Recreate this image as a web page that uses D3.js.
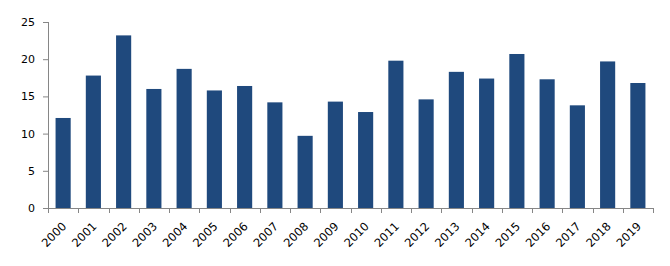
<!DOCTYPE html>
<html>
<head>
<meta charset="utf-8">
<script src="https://cdn.jsdelivr.net/npm/d3@7"></script>
<style>
  body { margin: 0; background: #fff; }
  text { font-family: "DejaVu Sans", Verdana, sans-serif; }
</style>
</head>
<body>
<div id="chart"></div>
<script>
// yearly values
const years = ["2000","2001","2002","2003","2004","2005","2006","2007","2008","2009",
               "2010","2011","2012","2013","2014","2015","2016","2017","2018","2019"];
const values = [12.1, 17.8, 23.2, 16.0, 18.7, 15.8, 16.4, 14.2, 9.7, 14.3,
                12.9, 19.8, 14.6, 18.3, 17.4, 20.7, 17.3, 13.8, 19.7, 16.8];
const yTicks = [0, 5, 10, 15, 20, 25];

const margin = {top: 22, right: 17, bottom: 58, left: 48},
    width = 670 - margin.left - margin.right,
    height = 266 - margin.top - margin.bottom;

const svg = d3.select("#chart")
    .append("svg")
    .attr("width", 670)
    .attr("height", 266)
    .append("g")
    .attr("transform", `translate(${margin.left},${margin.top})`);

const xScale = d3.scaleBand()
    .domain(years)
    .range([0, width])
    .paddingInner(0.5)
    .paddingOuter(0.25);

const yScale = d3.scaleLinear()
    .domain([0, 25])
    .range([height, 0]);

const axisColor = "#868686";

// bars
svg.selectAll("rect.bar")
    .data(values)
    .enter()
    .append("rect")
    .attr("class", "bar")
    .attr("x", (d, i) => xScale(years[i]))
    .attr("y", d => yScale(d))
    .attr("width", xScale.bandwidth())
    .attr("height", d => height - yScale(d))
    .style("fill", "#1f497d");

// y axis
const yAxis = svg.append("g")
    .call(d3.axisLeft(yScale).tickValues(yTicks).tickSize(5).tickPadding(8));
yAxis.select(".domain").attr("stroke", axisColor).attr("d", `M0.5,0V${height}`);
yAxis.selectAll(".tick line").attr("stroke", axisColor);
yAxis.selectAll("text").attr("font-size", 11).attr("fill", "#000");

// x axis, ticks sit between the categories
const xg = svg.append("g").attr("transform", `translate(0,${height})`);
xg.append("line")
    .attr("x1", 0).attr("x2", width)
    .attr("y1", 0.5).attr("y2", 0.5)
    .attr("stroke", axisColor);
const step = xScale.step();
xg.selectAll("line.tk")
    .data(d3.range(years.length + 1))
    .enter()
    .append("line")
    .attr("class", "tk")
    .attr("x1", i => Math.round(i * step) + 0.5)
    .attr("x2", i => Math.round(i * step) + 0.5)
    .attr("y1", 0).attr("y2", 5)
    .attr("stroke", axisColor);

xg.selectAll("text")
    .data(years)
    .enter()
    .append("text")
    .attr("text-anchor", "end")
    .attr("font-size", 11.5)
    .attr("transform", d => `translate(${xScale(d) + xScale.bandwidth() / 2 + 4},${19}) rotate(-45)`)
    .text(d => d);
</script>
</body>
</html>
